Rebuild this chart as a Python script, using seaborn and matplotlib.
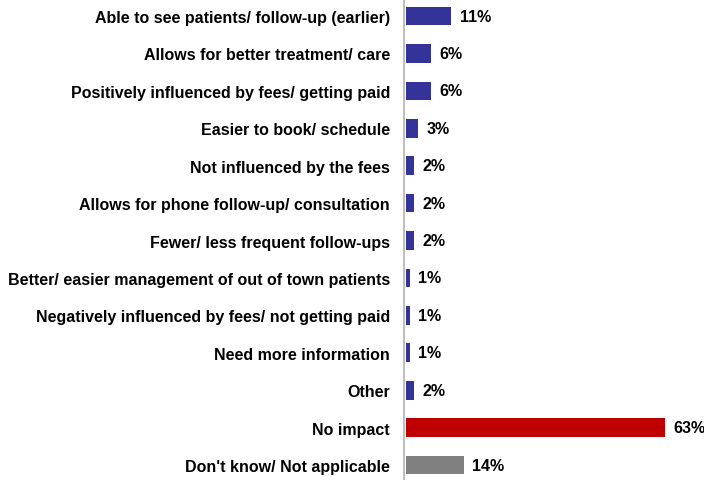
import matplotlib
matplotlib.use("Agg")
import matplotlib.pyplot as plt
import seaborn as sns
import pandas as pd

categories = [
    "Able to see patients/ follow-up (earlier)",
    "Allows for better treatment/ care",
    "Positively influenced by fees/ getting paid",
    "Easier to book/ schedule",
    "Not influenced by the fees",
    "Allows for phone follow-up/ consultation",
    "Fewer/ less frequent follow-ups",
    "Better/ easier management of out of town patients",
    "Negatively influenced by fees/ not getting paid",
    "Need more information",
    "Other",
    "No impact",
    "Don't know/ Not applicable",
]
values = [11, 6, 6, 3, 2, 2, 2, 1, 1, 1, 2, 63, 14]
colors = ["#333399"] * 11 + ["#c00000", "#808080"]

df = pd.DataFrame({"category": categories, "pct": values})

sns.set_style("white")
plt.rcParams["font.family"] = ["Liberation Sans", "DejaVu Sans"]

fig = plt.figure(figsize=(7.04, 4.81), dpi=100)
ax = fig.add_axes([404 / 704, 0, 300 / 704, 1])

sns.barplot(data=df, x="pct", y="category", hue="category",
            palette=colors, legend=False, width=0.5, ax=ax,
            saturation=1, edgecolor="none")

for cont in ax.containers:
    ax.bar_label(cont, labels=[f"{v:.0f}%" for v in cont.datavalues],
                 padding=6, fontsize=11.5, fontweight="bold", color="black")

ax.set_xlim(-0.5, 72.6)
ax.set_ylim(12.4, -0.455)
ax.set_xlabel("")
ax.set_ylabel("")
ax.set_xticks([])
ax.tick_params(axis="y", length=0, pad=10)
for lbl in ax.get_yticklabels():
    lbl.set_fontweight("bold")
    lbl.set_fontsize(11.5)
    lbl.set_color("black")

for side in ["top", "right", "bottom"]:
    ax.spines[side].set_visible(False)
ax.spines["left"].set_color("#c0c0c0")
ax.spines["left"].set_linewidth(1.5)

fig.savefig("out.png", dpi=100)
